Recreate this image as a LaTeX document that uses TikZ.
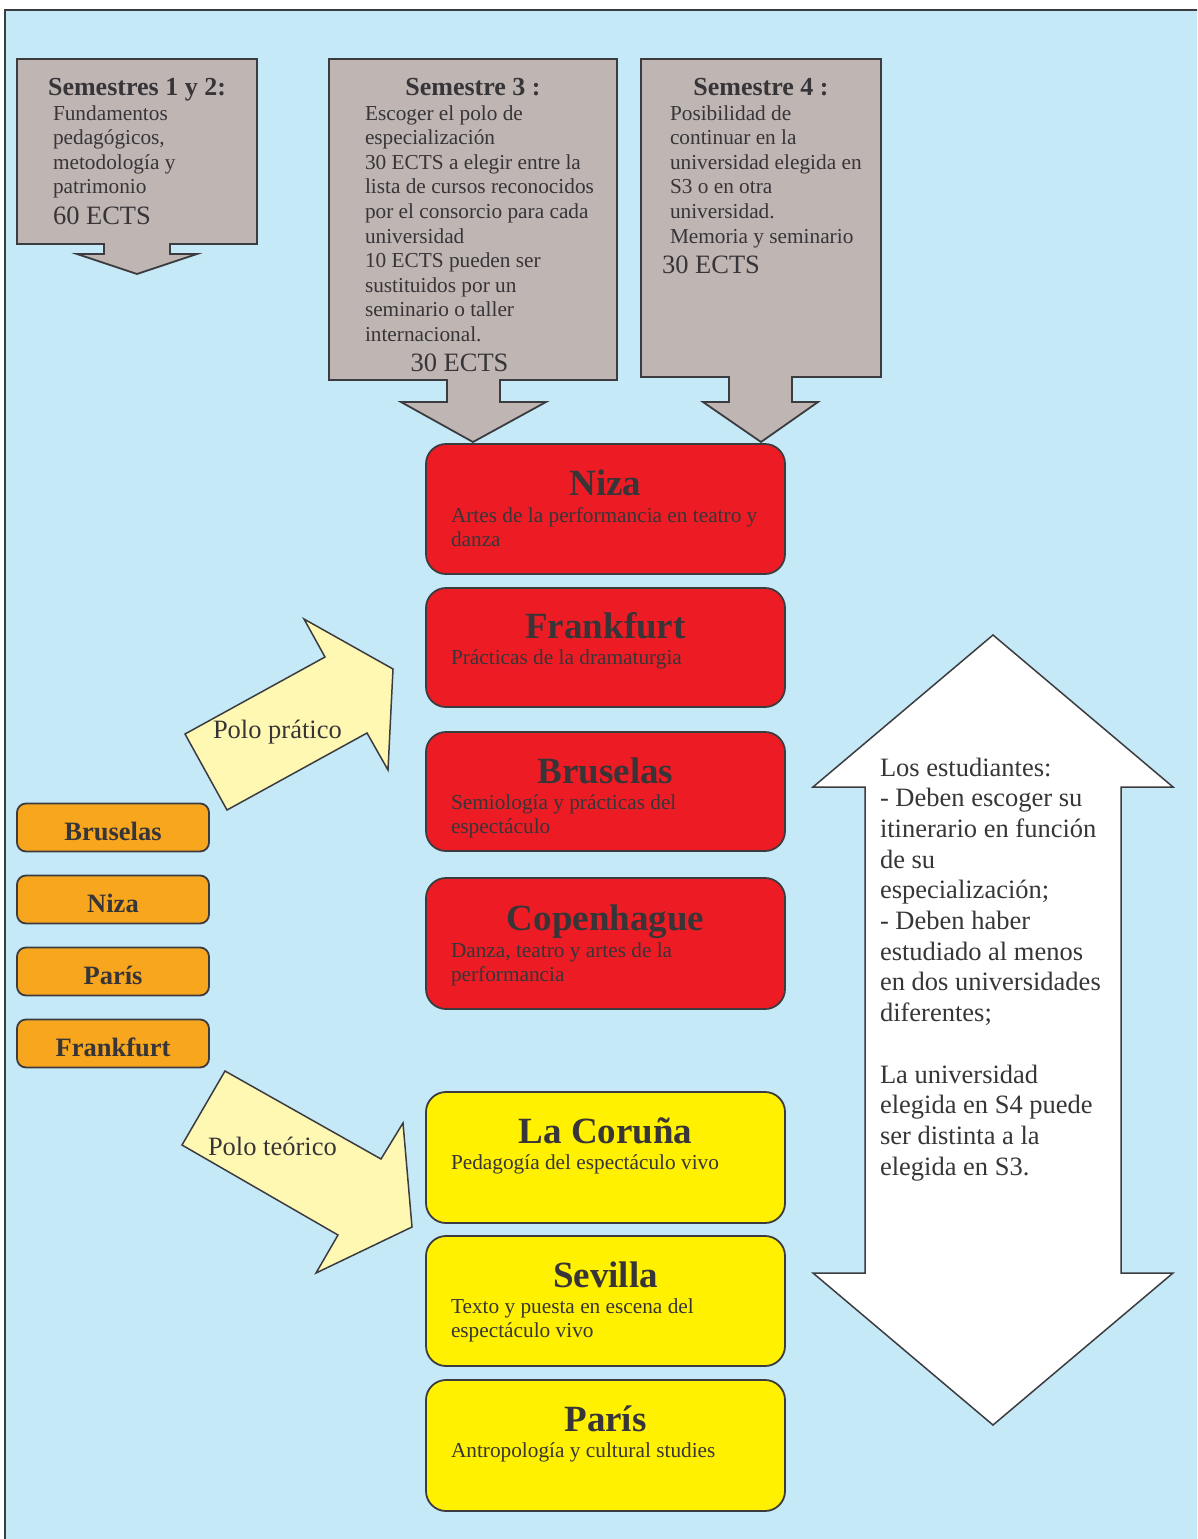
\documentclass[tikz,border=0pt]{standalone}
\usepackage{fontspec}
\setmainfont{Liberation Serif}
\definecolor{bg}{RGB}{198,233,248}
\definecolor{grayf}{RGB}{191,181,179}
\definecolor{redf}{RGB}{237,28,36}
\definecolor{yelf}{RGB}{255,241,0}
\definecolor{orf}{RGB}{247,166,30}
\definecolor{lyf}{RGB}{255,248,178}
\definecolor{linec}{RGB}{60,60,64}
\definecolor{txt}{RGB}{55,53,56}
\newcommand{\ml}[1]{\begin{tabular}[t]{@{}l@{}}#1\end{tabular}}
\begin{document}
\begin{tikzpicture}[x=1pt,y=-1pt,
  every node/.style={inner sep=0pt, outer sep=0pt, text=txt},
  shapeline/.style={draw=linec, line width=1.8pt, line join=miter},
  graybox/.style={shapeline, fill=grayf},
  citybox/.style={shapeline, rounded corners=20pt, minimum width=359pt},
  orbox/.style={shapeline, fill=orf, rounded corners=9pt, minimum width=192pt, minimum height=48pt},
  polo/.style={shapeline, fill=lyf, line width=1.5pt},
  bigarrow/.style={shapeline, fill=white, line width=1.5pt},
  semtitle/.style={anchor=base, font=\fontsize{26}{30}\selectfont\bfseries},
  sembody/.style={anchor=base west, font=\fontsize{21.3}{24.6}\selectfont},
  ects/.style={font=\fontsize{26.5}{30}\selectfont},
  ctitle/.style={anchor=base, font=\fontsize{37}{42}\selectfont\bfseries},
  csub/.style={anchor=base west, font=\fontsize{21.3}{24.7}\selectfont},
  ortext/.style={anchor=base, font=\fontsize{26.5}{30}\selectfont\bfseries},
  polotext/.style={anchor=base west, font=\fontsize{26.5}{30}\selectfont},
  notetext/.style={anchor=base west, font=\fontsize{26.5}{30.7}\selectfont}
]
\useasboundingbox (0,0) rectangle (1197,1539);
\begin{scope}
  \clip (0,0) rectangle (1197,1539);
  \draw[draw=linec, line width=2.5pt, fill=bg] (5,10) rectangle (1230,1580);
\end{scope}

% semester boxes with arrows
\draw[graybox] (17,59) -- (257,59) -- (257,244) -- (170,244) -- (170,254) -- (197,254)
  -- (137,274) -- (77,254) -- (104,254) -- (104,244) -- (17,244) -- cycle;
\draw[graybox] (329,59) -- (617,59) -- (617,380) -- (500,380) -- (500,402) -- (546,402)
  -- (473,442) -- (401,402) -- (447,402) -- (447,380) -- (329,380) -- cycle;
\draw[graybox] (641,59) -- (881,59) -- (881,377) -- (792,377) -- (792,402) -- (818,402)
  -- (761,442) -- (703,402) -- (729,402) -- (729,377) -- (641,377) -- cycle;

\node[semtitle] (s1t) at (137,95) {Semestres 1 y 2:};
\node[sembody] (s1b) at (53,120) {\ml{Fundamentos\\pedagógicos,\\metodología y\\patrimonio}};
\node[ects, anchor=base west] (s1e) at (53,224) {60 ECTS};

\node[semtitle] (s3t) at (473,95) {Semestre 3 :};
\node[sembody] (s3b) at (365,120) {\ml{Escoger el polo de\\especialización\\30 ECTS a elegir entre la\\lista de cursos reconocidos\\por el consorcio para cada\\universidad\\10 ECTS pueden ser\\sustituidos por un\\seminario o taller\\internacional.}};
\node[ects, anchor=base] (s3e) at (459.5,371) {30 ECTS};

\node[semtitle] (s4t) at (761,95) {Semestre 4 :};
\node[sembody] (s4b) at (670,120) {\ml{Posibilidad de\\continuar en la\\universidad elegida en\\S3 o en otra\\universidad.\\Memoria y seminario}};
\node[ects, anchor=base west] (s4e) at (662,273) {30 ECTS};

% city boxes
\node[citybox, fill=redf, minimum height=130pt] (niza) at (605.5,509) {};
\node[ctitle] (nizaT) at (605.5,495) {Niza};
\node[csub] (nizaS) at (451,522) {\ml{Artes de la performancia en teatro y\\danza}};

\node[citybox, fill=redf, minimum height=119pt] (frank) at (605.5,647.5) {};
\node[ctitle] (frankT) at (605.5,638) {Frankfurt};
\node[csub] (frankS) at (451,664) {Prácticas de la dramaturgia};

\node[citybox, fill=redf, minimum height=119pt] (brus) at (605.5,791.5) {};
\node[ctitle] (brusT) at (605.5,783) {Bruselas};
\node[csub] (brusS) at (451,809) {\ml{Semiología y prácticas del\\espectáculo}};

\node[citybox, fill=redf, minimum height=131pt] (cope) at (605.5,943.5) {};
\node[ctitle] (copeT) at (605.5,930) {Copenhague};
\node[csub] (copeS) at (451,957) {\ml{Danza, teatro y artes de la\\performancia}};

\node[citybox, fill=yelf, minimum height=131pt] (coru) at (605.5,1157.5) {};
\node[ctitle] (coruT) at (605.5,1143) {La Coruña};
\node[csub] (coruS) at (451,1169) {Pedagogía del espectáculo vivo};

\node[citybox, fill=yelf, minimum height=130pt] (sevi) at (605.5,1301) {};
\node[ctitle] (seviT) at (605.5,1287) {Sevilla};
\node[csub] (seviS) at (451,1313) {\ml{Texto y puesta en escena del\\espectáculo vivo}};

\node[citybox, fill=yelf, minimum height=131pt] (pari) at (605.5,1445.5) {};
\node[ctitle] (pariT) at (605.5,1431) {París};
\node[csub] (pariS) at (451,1457) {Antropología y cultural studies};

% orange boxes
\node[orbox] (oBru) at (113,827.5) {};
\node[ortext] (oBruT) at (113,840) {Bruselas};
\node[orbox] (oNiz) at (113,899.5) {};
\node[ortext] (oNizT) at (113,912) {Niza};
\node[orbox] (oPar) at (113,971.5) {};
\node[ortext] (oParT) at (113,984) {París};
\node[orbox] (oFra) at (113,1043.5) {};
\node[ortext] (oFraT) at (113,1056) {Frankfurt};

% polo arrows
\draw[polo] (185,734) -- (325,657) -- (304,619) -- (393,669) -- (388,770)
  -- (367,733) -- (227,810) -- cycle;
\node[polotext] (ppra) at (213,738) {Polo prático};
\draw[polo] (225,1071) -- (381,1159) -- (403,1123) -- (412,1227) -- (316,1273)
  -- (338,1235) -- (182,1145) -- cycle;
\node[polotext] (pteo) at (208,1155) {Polo teórico};

% big double arrow
\draw[bigarrow] (993,635) -- (1173,787) -- (1121,787) -- (1121,1273) -- (1173,1273)
  -- (993,1425) -- (813,1273) -- (865,1273) -- (865,787) -- (813,787) -- cycle;
\node[notetext] (note) at (880,776) {\ml{Los estudiantes:\\- Deben escoger su\\itinerario en función\\de su\\especialización;\\- Deben haber\\estudiado al menos\\en dos universidades\\diferentes;\\ \\La universidad\\elegida en S4 puede\\ser distinta a la\\elegida en S3.}};
\end{tikzpicture}
\end{document}
